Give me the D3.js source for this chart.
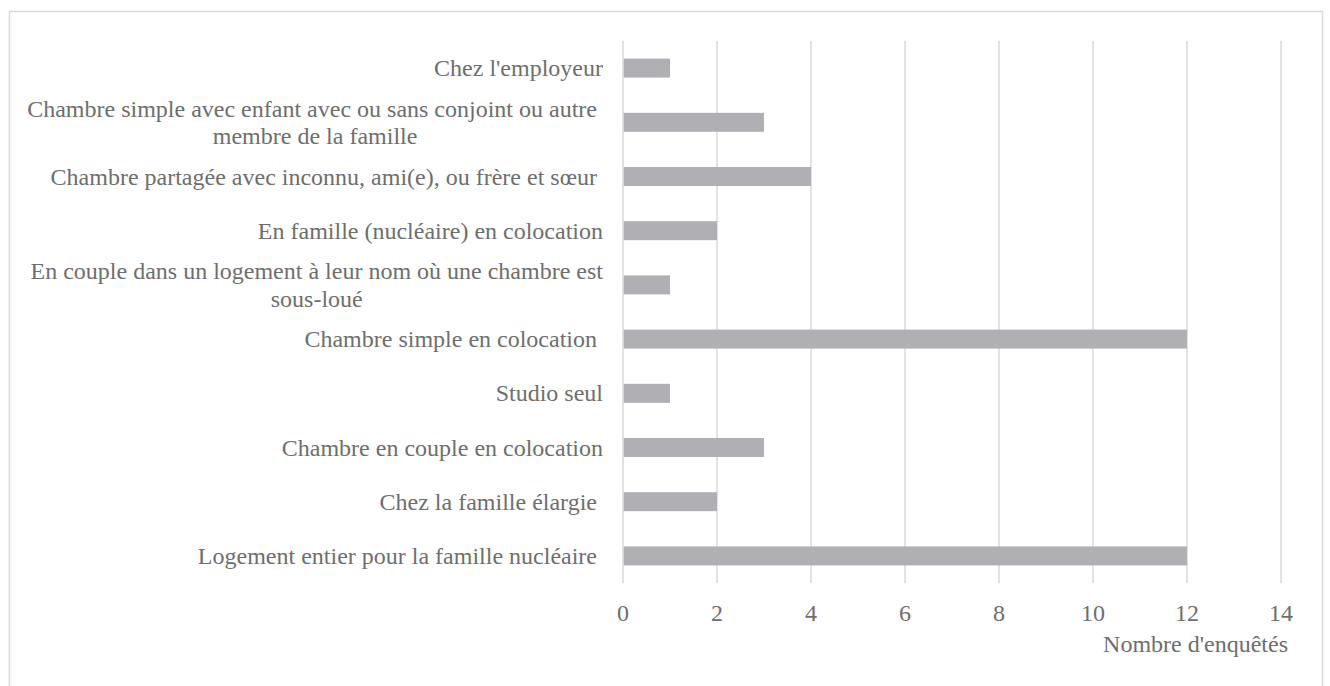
<!DOCTYPE html>
<html>
<head>
<meta charset="utf-8">
<script src="https://cdn.jsdelivr.net/npm/d3@7"></script>
<style>
  html, body { margin: 0; padding: 0; background: #fff; }
  svg { display: block; }
  text { font-family: "Liberation Serif", "Times New Roman", serif; fill: #6e6e6e; white-space: pre; }
</style>
</head>
<body>
<svg id="chart" width="1330" height="686"></svg>
<script>
// Housing situation categories (top to bottom), "\n" marks a wrapped line
const categories = [
  "Chez l'employeur",
  "Chambre simple avec enfant avec ou sans conjoint ou autre \nmembre de la famille",
  "Chambre partagée avec inconnu, ami(e), ou frère et sœur ",
  "En famille (nucléaire) en colocation",
  "En couple dans un logement à leur nom où une chambre est\nsous-loué",
  "Chambre simple en colocation ",
  "Studio seul",
  "Chambre en couple en colocation",
  "Chez la famille élargie ",
  "Logement entier pour la famille nucléaire "
];
// Number of surveys per category
const values = [1, 3, 4, 2, 1, 12, 1, 3, 2, 12];
// X axis ticks
const xTicks = [0, 2, 4, 6, 8, 10, 12, 14];
const xTitle = "Nombre d'enquêtés";

const svg = d3.select("#chart");
const margin = { left: 623, right: 49, top: 41, bottom: 103 };
const W = 1330, H = 686;

// Chart frame
svg.append("rect")
  .attr("x", 9.5).attr("y", 11.5)
  .attr("width", 1313).attr("height", 690)
  .attr("fill", "none").attr("stroke", "#d9d9d9").attr("stroke-width", 1.5);

const x = d3.scaleLinear()
  .domain([0, d3.max(xTicks)])
  .range([margin.left, W - margin.right]);

const y = d3.scaleBand()
  .domain(categories)
  .range([margin.top, H - margin.bottom])
  .paddingInner(0.65)
  .paddingOuter(0.325);

// Vertical gridlines
svg.append("g").selectAll("line")
  .data(xTicks)
  .join("line")
  .attr("x1", d => x(d)).attr("x2", d => x(d))
  .attr("y1", margin.top).attr("y2", H - margin.bottom)
  .attr("stroke", "#d9d9d9").attr("stroke-width", 1.5);

// Bars
svg.append("g").selectAll("rect")
  .data(categories.map((c, i) => ({ c, v: values[i] })))
  .join("rect")
  .attr("x", x(0) + 0.75)
  .attr("y", d => y(d.c))
  .attr("width", d => x(d.v) - x(0) - 0.75)
  .attr("height", y.bandwidth())
  .attr("fill", "#b0b0b4");

// Tick labels
svg.append("g").selectAll("text")
  .data(xTicks)
  .join("text")
  .attr("x", d => x(d))
  .attr("y", 621)
  .attr("text-anchor", "middle")
  .attr("font-size", 24)
  .text(d => d);

// Axis title
svg.append("text")
  .attr("x", 1288).attr("y", 652)
  .attr("text-anchor", "end")
  .attr("font-size", 24)
  .text(xTitle);

// Category labels: block right-aligned at the axis, lines centered within it
const labelRight = 603;
const lineH = 27.4;
const labels = svg.append("g");
categories.forEach(c => {
  const lines = c.split("\n");
  const cy = y(c) + y.bandwidth() / 2;
  const g = labels.append("g");
  const ts = lines.map((ln, i) =>
    g.append("text")
      .attr("font-size", 24)
      .attr("y", cy + 8 + (i - (lines.length - 1) / 2) * lineH)
      .text(ln));
  if (lines.length === 1) {
    ts[0].attr("x", labelRight).attr("text-anchor", "end");
  } else {
    const maxW = d3.max(ts, t => t.node().getComputedTextLength());
    ts.forEach(t => t.attr("x", labelRight - maxW / 2).attr("text-anchor", "middle"));
  }
});
</script>
</body>
</html>
